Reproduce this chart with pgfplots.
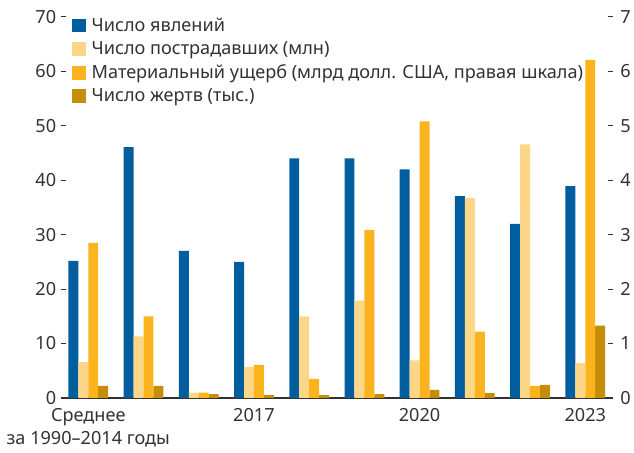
\documentclass[border=0pt]{standalone}
\usepackage{pgfplots}
\pgfplotsset{compat=1.18}
\usepackage{fontspec}
\setmainfont{Noto Sans}
\definecolor{cblue}{RGB}{0,94,158}
\definecolor{clight}{RGB}{253,214,136}
\definecolor{corange}{RGB}{251,180,30}
\definecolor{cdark}{RGB}{196,142,10}
\definecolor{ctext}{RGB}{50,50,50}
\begin{document}
\begin{tikzpicture}[font=\fontsize{18.2bp}{20bp}\selectfont, text=ctext]
\pgfplotsset{
  common/.style={
    scale only axis, width=555bp, height=383bp,
    at={(0,0)}, anchor=south west,
    xmin=-0.5, xmax=9.5, ymin=0,
    ybar, bar width=0.18,
    /pgf/number format/assume math mode=true,
    tick label style={font=\fontsize{18.2bp}{23bp}\selectfont},
    tick style={ctext, line width=1.1bp},
    major tick length=5bp,
  },
}
\begin{axis}[common,
  ymax=70, ytick={0,10,...,70},
  axis x line*=bottom, axis y line*=left,
  y axis line style={draw=none},
  x axis line style={ctext, line width=1.3bp},
  ytick align=inside,
  yticklabel style={xshift=-1bp},
  xtick={0,3,6,9},
  xticklabels={{Среднее\\за 1990–2014 годы},2017,2020,2023},
  xticklabel style={align=center, yshift=-7bp, text depth=0pt},
  xtick style={draw=none},
  minor xtick={-0.5,0.5,...,9.5},
  minor tick length=6bp,
  minor x tick style={ctext, line width=1.1bp},
  xtick align=inside,
  legend cell align=left,
  legend style={at={(8bp,386bp)}, anchor=north west, draw=none, fill=none,
    font=\fontsize{18.2bp}{20bp}\selectfont, row sep=4.8bp,
    /tikz/every odd column/.append style={column sep=4bp}},
  legend image code/.code={\fill[#1] (0bp,-7bp) rectangle (14bp,7bp);},
]
\addplot[fill=cblue, draw=none, bar shift=-0.27] coordinates {
(0,25.2) (1,46.1) (2,27.0) (3,25.0) (4,44.0) (5,44.0) (6,42.0) (7,37.1) (8,32.0) (9,38.9)};
\addlegendentry{Число явлений}
\addplot[fill=clight, draw=none, bar shift=-0.09] coordinates {
(0,6.6) (1,11.3) (2,1.0) (3,5.7) (4,15.0) (5,17.9) (6,6.9) (7,36.7) (8,46.6) (9,6.4)};
\addlegendentry{Число пострадавших (млн)}
\addlegendimage{fill=corange, draw=none}
\addlegendentry{Материальный ущерб (млрд долл. США, правая шкала)}
\addplot[fill=cdark, draw=none, bar shift=0.27] coordinates {
(0,2.2) (1,2.2) (2,0.7) (3,0.5) (4,0.5) (5,0.7) (6,1.5) (7,0.9) (8,2.4) (9,13.3)};
\addlegendentry{Число жертв (тыс.)}
\end{axis}
\begin{axis}[common,
  ymax=7, ytick={0,1,...,7},
  axis x line=none, axis y line*=right,
  y axis line style={draw=none},
  ytick align=inside,
  yticklabel style={xshift=4bp},
]
\addplot[fill=corange, draw=none, bar shift=0.09] coordinates {
(0,2.85) (1,1.50) (2,0.10) (3,0.61) (4,0.35) (5,3.09) (6,5.08) (7,1.22) (8,0.22) (9,6.21)};
\end{axis}
\path[use as bounding box] (-61bp,-55bp) rectangle (573bp,400bp);
\end{tikzpicture}
\end{document}
